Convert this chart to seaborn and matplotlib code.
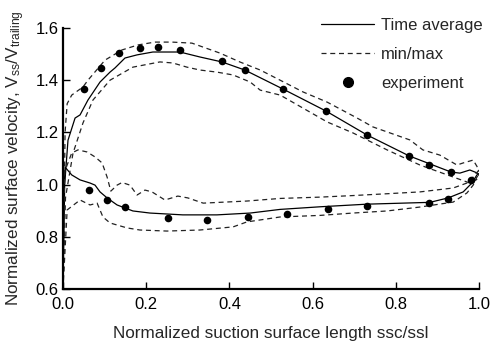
import matplotlib
matplotlib.use("Agg")
import matplotlib.pyplot as plt
from matplotlib.lines import Line2D
import seaborn as sns

# ---------------- data ----------------
avg_up_x = [0.0, 0.004, 0.012, 0.029, 0.041, 0.06, 0.089, 0.113, 0.125, 0.149, 0.178, 0.216, 0.281, 0.329,
            0.382, 0.437, 0.529, 0.632, 0.731, 0.832, 0.933, 0.954, 0.978, 0.995, 1.0]
avg_up_y = [0.6, 1.0, 1.17, 1.255, 1.267, 1.324, 1.393, 1.431, 1.447, 1.485, 1.497, 1.508, 1.508, 1.489,
            1.470, 1.439, 1.366, 1.282, 1.190, 1.110, 1.048, 1.044, 1.056, 1.045, 1.04]

avg_lo_x = [0.0, 0.002, 0.005, 0.021, 0.041, 0.065, 0.077, 0.089, 0.106, 0.13, 0.168, 0.209, 0.288, 0.37,
            0.45, 0.522, 0.618, 0.73, 0.882, 0.926, 0.962, 0.983, 0.995, 1.0]
avg_lo_y = [0.6, 0.95, 1.067, 1.037, 1.018, 1.006, 0.998, 0.972, 0.949, 0.922, 0.899, 0.891, 0.884, 0.884,
            0.891, 0.905, 0.915, 0.925, 0.932, 0.949, 0.972, 1.006, 1.037, 1.04]

max_up_x = [0.0, 0.005, 0.01, 0.021, 0.048, 0.06, 0.101, 0.142, 0.18, 0.221, 0.262, 0.31, 0.377, 0.425,
            0.474, 0.522, 0.577, 0.635, 0.707, 0.745, 0.786, 0.834, 0.865, 0.906, 0.947, 0.962, 0.986,
            0.995, 1.0]
max_up_y = [0.6, 1.2, 1.31, 1.343, 1.374, 1.40, 1.477, 1.516, 1.535, 1.546, 1.546, 1.542, 1.504, 1.47,
            1.439, 1.40, 1.355, 1.316, 1.255, 1.221, 1.198, 1.171, 1.133, 1.113, 1.075, 1.083, 1.094,
            1.07, 1.05]

min_up_x = [0.0, 0.006, 0.024, 0.048, 0.072, 0.113, 0.168, 0.233, 0.264, 0.298, 0.329, 0.37, 0.409, 0.45,
            0.474, 0.522, 0.577, 0.635, 0.697, 0.779, 0.858, 0.938, 0.978, 0.995, 1.0]
min_up_y = [0.6, 0.95, 1.12, 1.236, 1.324, 1.40, 1.45, 1.47, 1.466, 1.45, 1.439, 1.431, 1.42, 1.393,
            1.362, 1.343, 1.293, 1.24, 1.198, 1.133, 1.075, 1.029, 1.006, 1.02, 1.04]

max_lo_x = [0.0, 0.004, 0.021, 0.036, 0.058, 0.077, 0.094, 0.106, 0.115, 0.13, 0.142, 0.161, 0.178, 0.197,
            0.214, 0.245, 0.276, 0.3, 0.337, 0.442, 0.522, 0.618, 0.697, 0.779, 0.858, 0.938, 0.971,
            0.986, 1.0]
max_lo_y = [0.6, 1.05, 1.121, 1.133, 1.125, 1.106, 1.083, 1.029, 0.975, 0.998, 1.008, 0.998, 0.96, 0.979,
            0.972, 0.941, 0.956, 0.949, 0.929, 0.937, 0.947, 0.952, 0.958, 0.965, 0.972, 0.987, 1.006,
            1.029, 1.056]

min_lo_x = [0.0, 0.01, 0.041, 0.065, 0.082, 0.096, 0.113, 0.154, 0.185, 0.25, 0.329, 0.409, 0.442, 0.522,
            0.618, 0.697, 0.779, 0.858, 0.938, 0.971, 0.986, 0.995, 1.0]
min_lo_y = [0.6, 0.903, 0.941, 0.922, 0.929, 0.876, 0.853, 0.834, 0.826, 0.822, 0.826, 0.838, 0.857, 0.876,
            0.882, 0.891, 0.899, 0.914, 0.933, 0.968, 0.998, 1.029, 1.04]

exp_x = [0.05, 0.091, 0.135, 0.185, 0.228, 0.282, 0.382, 0.437, 0.529, 0.632, 0.731, 0.832, 0.880, 0.933,
         0.981, 0.063, 0.106, 0.149, 0.252, 0.346, 0.444, 0.538, 0.637, 0.731, 0.880, 0.926]
exp_y = [1.366, 1.447, 1.504, 1.523, 1.527, 1.516, 1.474, 1.439, 1.366, 1.282, 1.190, 1.110, 1.075, 1.048,
         1.018, 0.979, 0.941, 0.914, 0.872, 0.864, 0.876, 0.887, 0.907, 0.918, 0.929, 0.945]

x_ticks = [0.0, 0.2, 0.4, 0.6, 0.8, 1.0]
y_ticks = [0.6, 0.8, 1.0, 1.2, 1.4, 1.6]

# ---------------- style ----------------
sns.set_theme(style="ticks")
plt.rcParams["font.family"] = ["Liberation Sans", "DejaVu Sans"]
plt.rcParams["mathtext.default"] = "regular"

fig = plt.figure(figsize=(4.91, 3.43), dpi=100)
ax = fig.add_axes([63 / 491, 1 - 289 / 343, 416 / 491, 261 / 343])

for xs, ys in [(avg_up_x, avg_up_y), (avg_lo_x, avg_lo_y)]:
    sns.lineplot(x=xs, y=ys, sort=False, estimator=None, color="black", lw=0.9, ax=ax)
for xs, ys in [(max_up_x, max_up_y), (min_up_x, min_up_y), (max_lo_x, max_lo_y), (min_lo_x, min_lo_y)]:
    sns.lineplot(x=xs, y=ys, sort=False, estimator=None, color="#222222", lw=0.9,
                 dashes=False, linestyle=(0, (4, 3)), ax=ax)
sns.scatterplot(x=exp_x, y=exp_y, color="black", s=30, edgecolor="black", linewidth=0, ax=ax, zorder=5)

ax.set_xlim(0, 1.0)
ax.set_ylim(0.6, 1.6)
ax.set_xticks(x_ticks)
ax.set_yticks(y_ticks)
ax.set_xticklabels([f"{v:.1f}" for v in x_ticks])
ax.set_yticklabels([f"{v:.1f}" for v in y_ticks])
ax.tick_params(direction="in", length=5, width=1, labelsize=12, colors="black")
ax.tick_params(axis="x", pad=6)
ax.tick_params(axis="y", pad=3)
for s in ["top", "right"]:
    ax.spines[s].set_visible(False)
for s in ["left", "bottom"]:
    ax.spines[s].set_linewidth(1.6)
    ax.spines[s].set_color("black")

ax.set_xlabel("Normalized suction surface length ssc/ssl", fontsize=12.3, labelpad=10)
ax.set_ylabel(r"Normalized surface velocity, V$_{ss}$/V$_{trailing}$", fontsize=12.3, labelpad=6)

handles = [
    Line2D([], [], color="black", lw=0.9),
    Line2D([], [], color="#222222", lw=0.9, linestyle=(0, (4, 3))),
    Line2D([], [], color="black", marker="o", linestyle="none", markersize=7),
]
leg = fig.legend(handles, ["Time average", "min/max", "experiment"], loc="upper left",
                 bbox_to_anchor=(306 / 491, 1 - 3 / 343), frameon=False, fontsize=12,
                 handlelength=3.2, handletextpad=0.4, labelspacing=0.85)

fig.savefig("out.png", dpi=100)
